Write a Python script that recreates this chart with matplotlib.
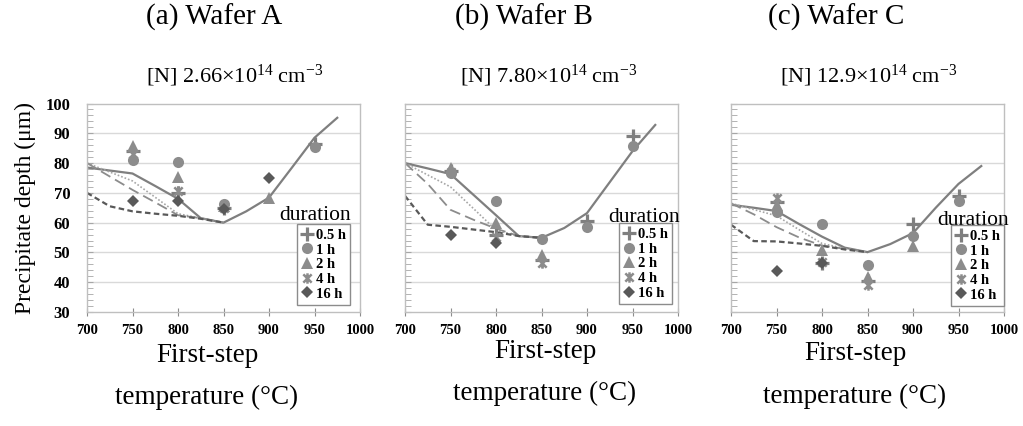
import matplotlib
matplotlib.use("Agg")
import matplotlib.pyplot as plt
from matplotlib.path import Path
from matplotlib.lines import Line2D
import numpy as np

plt.rcParams['font.family'] = ['Liberation Serif', 'DejaVu Serif']
plt.rcParams['mathtext.default'] = 'regular'

nan = np.nan

# ---- data -------------------------------------------------------------
durations = ["0.5 h", "1 h", "2 h", "4 h", "16 h"]
temps_pts = [750, 800, 850, 900, 950]

wafer_titles = ["(a) Wafer A", "(b) Wafer B", "(c) Wafer C"]
nitrogen_labels = ["[N] 2.66×10$^{14}$ cm$^{-3}$",
                   "[N] 7.80×10$^{14}$ cm$^{-3}$",
                   "[N] 12.9×10$^{14}$ cm$^{-3}$"]

# measured precipitate depth (um), rows follow `durations`
depth_A = [[84.0, 70.0, 65.0, nan, 86.5],
           [81.0, 80.5, 66.3, nan, 85.3],
           [85.8, 75.2, 65.5, 68.3, nan],
           [83.0, 70.5, 64.8, nan, nan],
           [67.4, 67.4, 64.5, 75.0, nan]]
depth_B = [[77.3, 55.8, 47.5, 60.4, 89.0],
           [76.7, 67.1, 54.6, 58.5, 85.7],
           [78.2, 59.9, 49.2, nan, nan],
           [77.0, 55.2, 46.4, nan, nan],
           [55.7, 53.3, nan, nan, nan]]
depth_C = [[67.0, 46.5, 40.5, 59.5, 68.9],
           [63.5, 59.5, 45.8, 55.6, 67.2],
           [65.8, 50.9, 41.7, 52.0, nan],
           [68.2, 46.8, 39.1, nan, nan],
           [43.9, 46.4, nan, nan, nan]]

# calculated depth curves
temps_long = [700, 725, 750, 775, 800, 825, 850, 875, 900, 925, 950, 975]
temps_short = [700, 725, 750, 775, 800, 825, 850]

solid_A = [78.5, 77.5, 76.5, 72.3, 68.0, 61.5, 60.0, 63.8, 68.4, 78.4, 88.5, 95.2]
solid_B = [80.0, 78.2, 76.3, 69.4, 62.5, 55.5, 54.9, 58.2, 63.2, 73.6, 84.0, 92.8]
solid_C = [66.0, 65.0, 63.9, 59.5, 55.3, 51.6, 50.1, 52.8, 56.5, 65.0, 73.0, 79.0]

dotted_A = [80.0, 77.0, 74.0, 68.5, 63.0, 61.5, 60.0]
dotted_B = [80.0, 76.0, 72.0, 64.8, 57.5, 55.5, 54.9]
dotted_C = [66.5, 64.4, 62.3, 57.6, 53.0, 51.3, 50.1]

dashed_A = [80.0, 75.5, 71.0, 66.8, 62.5, 61.5, 60.0]
dashed_B = [80.0, 73.0, 64.3, 61.0, 58.0, 55.5, 54.9]
dashed_C = [66.5, 62.8, 58.5, 55.0, 52.3, 51.2, 50.1]

short_A = [70.0, 65.5, 63.8, 63.0, 62.3, 61.3, 60.0]
short_B = [69.0, 59.3, 58.6, 57.7, 56.8, 55.5, 54.9]
short_C = [59.3, 53.8, 53.7, 53.0, 52.2, 51.0, 50.1]

x_ticks = [700, 750, 800, 850, 900, 950, 1000]
y_ticks = [30, 40, 50, 60, 70, 80, 90, 100]

# ---- styling ----------------------------------------------------------
star = Path([(-1, -1), (1, 1), (-1, 1), (1, -1), (0, -1.25), (0, 1.25)],
            [Path.MOVETO, Path.LINETO, Path.MOVETO, Path.LINETO,
             Path.MOVETO, Path.LINETO])
marker_styles = [
    dict(marker='+', ms=10, mew=2.3, color='#7f7f7f'),
    dict(marker='o', ms=8, mew=0, color='#8c8c8c'),
    dict(marker='^', ms=8, mew=0, color='#8c8c8c'),
    dict(marker=star, ms=7.5, mew=1.8, color='#8c8c8c'),
    dict(marker='D', ms=6.3, mew=0, color='#595959'),
]

W, H = 1023, 426
fig = plt.figure(figsize=(W / 100, H / 100), dpi=100)

panels = [
    dict(left=87, depth=depth_A, solid=solid_A, dotted=dotted_A, dashed=dashed_A,
         short=short_A, leg=(0.963, 0.034), dur=(0.834, 0.442),
         title_x=214, n_x=235, xl_x=207, xl_y=(355, 397)),
    dict(left=405, depth=depth_B, solid=solid_B, dotted=dotted_B, dashed=dashed_B,
         short=short_B, leg=(0.978, 0.038), dur=(0.877, 0.433),
         title_x=524, n_x=549, xl_x=545, xl_y=(351, 393)),
    dict(left=731, depth=depth_C, solid=solid_C, dotted=dotted_C, dashed=dashed_C,
         short=short_C, leg=(1.0, 0.029), dur=(0.888, 0.418),
         title_x=836, n_x=869, xl_x=855, xl_y=(353, 396)),
]

ax_w, ax_top, ax_bot = 273, 103.5, 312

for i, p in enumerate(panels):
    ax = fig.add_axes([p['left'] / W, 1 - ax_bot / H, ax_w / W, (ax_bot - ax_top) / H])
    ax.set_xlim(700, 1000)
    ax.set_ylim(30, 100)
    for y in y_ticks[1:-1]:
        ax.axhline(y, color='#d9d9d9', lw=1.0, zorder=0)

    ax.plot(temps_long, p['solid'], color='#7f7f7f', lw=1.6, zorder=2)
    ax.plot(temps_short, p['dotted'], color='#a6a6a6', lw=1.2, ls=(0, (1, 1.2)), zorder=2)
    ax.plot(temps_short, p['dashed'], color='#8c8c8c', lw=1.3, ls=(0, (6, 3)), zorder=2)
    ax.plot(temps_short, p['short'], color='#595959', lw=1.6, ls=(0, (2.5, 1.5)), zorder=2)

    for vals, st in zip(p['depth'], marker_styles):
        ax.plot(temps_pts, vals, ls='none', zorder=3, **st)

    for s in ax.spines.values():
        s.set_color('#bfbfbf')
        s.set_linewidth(1.0)

    ax.set_xticks(x_ticks)
    ax.set_yticks(y_ticks)
    ax.set_yticks(np.arange(30, 101, 2), minor=True)
    ax.tick_params(axis='x', direction='inout', length=6, color='#8c8c8c',
                   labelsize=10.5, pad=6)
    ax.tick_params(axis='y', which='both', direction='in', length=4, color='#a6a6a6')
    for lab in ax.get_xticklabels():
        lab.set_fontweight('bold')
    if i == 0:
        ax.tick_params(axis='y', labelsize=12, pad=12)
        for lab in ax.get_yticklabels():
            lab.set_fontweight('bold')
        ax.set_ylabel("Precipitate depth (μm)", fontsize=17, labelpad=7)
    else:
        ax.tick_params(axis='y', labelleft=False)

    handles = [Line2D([], [], ls='none', **st) for st in marker_styles]
    leg = ax.legend(handles, durations, loc='lower right', bbox_to_anchor=p['leg'],
                    prop=dict(weight='bold', size=10.5), frameon=True, fancybox=False,
                    edgecolor='#8c8c8c', framealpha=1, borderpad=0.3,
                    labelspacing=0.1, handlelength=0.8, handletextpad=0.2,
                    borderaxespad=0)
    leg.get_frame().set_linewidth(1.0)
    ax.text(p['dur'][0], p['dur'][1], "duration", transform=ax.transAxes,
            ha='center', va='baseline', fontsize=15.5)

    fig.text(p['title_x'] / W, 1 - 17 / H, wafer_titles[i], ha='center',
             va='center', fontsize=21)
    fig.text(p['n_x'] / W, 1 - 76 / H, nitrogen_labels[i], ha='center',
             va='center', fontsize=16)
    fig.text(p['xl_x'] / W, 1 - p['xl_y'][0] / H, "First-step", ha='center',
             va='center', fontsize=19.5)
    fig.text(p['xl_x'] / W, 1 - p['xl_y'][1] / H, "temperature (°C)", ha='center',
             va='center', fontsize=19.5)

fig.savefig("out.png", dpi=100)
